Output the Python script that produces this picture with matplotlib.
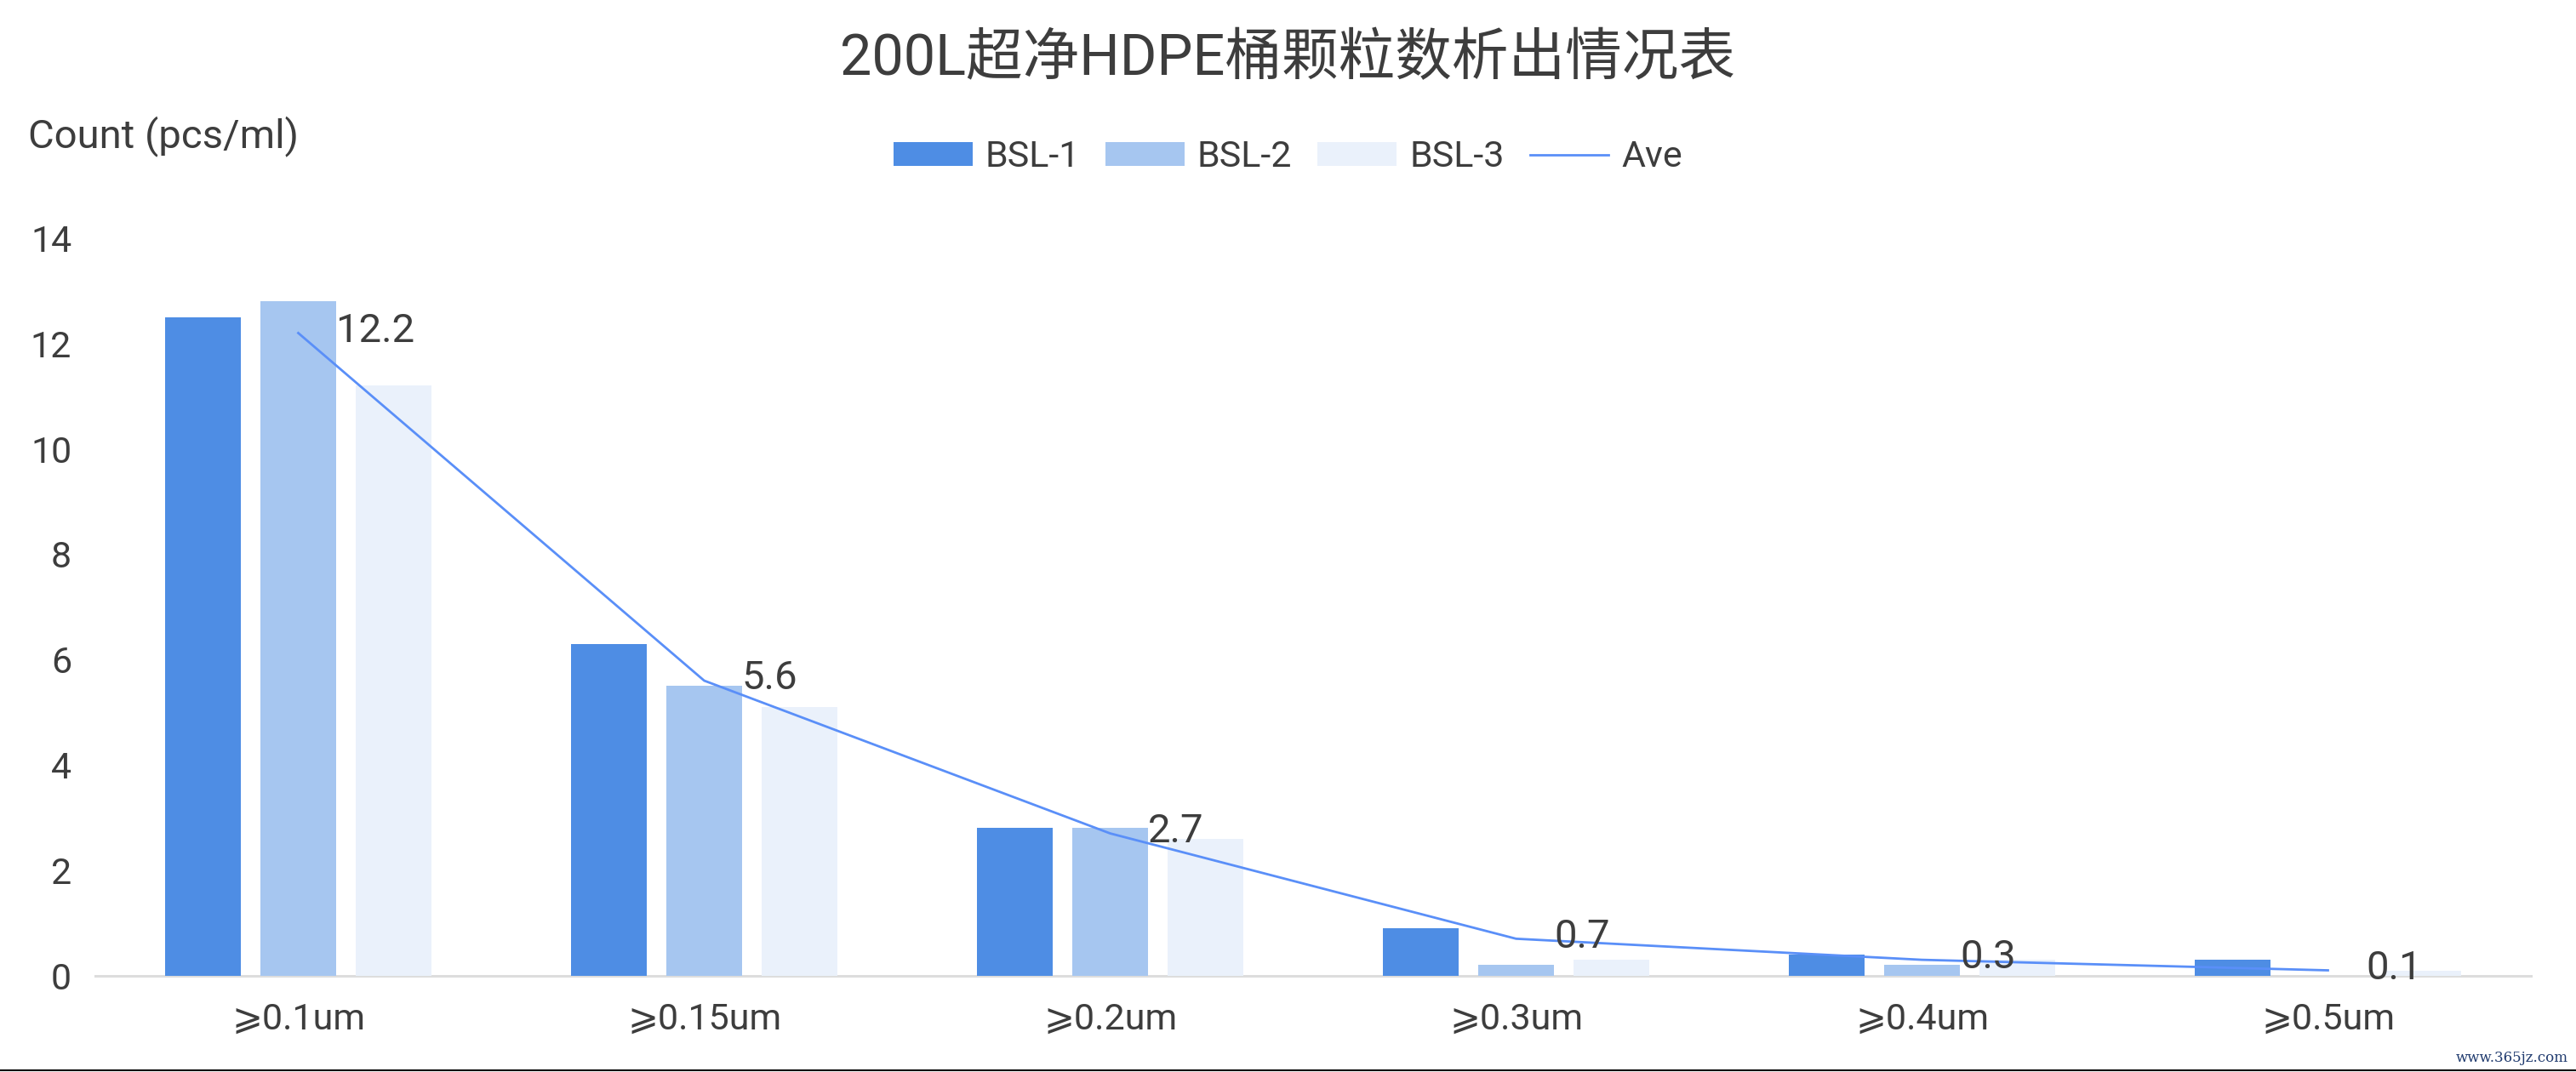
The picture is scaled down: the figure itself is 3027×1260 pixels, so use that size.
import matplotlib
matplotlib.use("Agg")
import matplotlib.pyplot as plt
from matplotlib.lines import Line2D
import numpy as np

plt.rcParams['font.family'] = ['Roboto', 'DejaVu Sans', 'Noto Sans CJK SC']

categories = ["⩾0.1um", "⩾0.15um", "⩾0.2um", "⩾0.3um", "⩾0.4um", "⩾0.5um"]
bsl1 = [12.5, 6.3, 2.8, 0.9, 0.4, 0.3]
bsl2 = [12.8, 5.5, 2.8, 0.2, 0.2, 0.0]
bsl3 = [11.2, 5.1, 2.6, 0.3, 0.3, 0.1]
ave = [12.2, 5.6, 2.7, 0.7, 0.3, 0.1]
series_names = ["BSL-1", "BSL-2", "BSL-3"]
line_name = "Ave"
title = "200L超净HDPE桶颗粒数析出情况表"
ylabel = "Count (pcs/ml)"
yticks = [0, 2, 4, 6, 8, 10, 12, 14]

colors = ["#4E8DE4", "#A6C6F0", "#EAF1FB"]
line_color = "#5A8FF8"
text_color = "#3D3D3D"

W, H = 3027, 1260
fig = plt.figure(figsize=(W / 100, H / 100), dpi=100)
ax = fig.add_axes([112 / W, 1 - 1146.7 / H, (2974 - 112) / W, (1146.7 - 280) / H])

x = np.arange(len(categories))
bw = 0.187
step = 0.235
handles = []
for k, (vals, c, name) in enumerate(zip([bsl1, bsl2, bsl3], colors, series_names)):
    h = ax.bar(x + (k - 1) * step, vals, width=bw, color=c, label=name, zorder=2)
    handles.append(h)

ln, = ax.plot(x, ave, color=line_color, lw=2.0, label=line_name, zorder=3)
handles.append(ln)
for xi, v in zip(x, ave):
    ax.annotate(f"{v:g}", (xi, v), xytext=(32, 2), textcoords="offset points",
                ha="left", va="center", fontsize=34, color=text_color, zorder=4)

ax.set_xlim(-0.5, len(categories) - 0.5)
ax.set_ylim(0, 14)
ax.set_yticks(yticks)
ax.set_xticks(x)
ax.set_xticklabels(categories)
for s in ["left", "top", "right"]:
    ax.spines[s].set_visible(False)
ax.spines["bottom"].set_color("#DDDDDD")
ax.spines["bottom"].set_linewidth(2.2)
ax.spines["bottom"].set_zorder(1)
ax.tick_params(axis="y", length=0, pad=20, labelsize=31, labelcolor=text_color)
ax.tick_params(axis="x", length=0, pad=22, labelsize=31, labelcolor=text_color)
ax.set_facecolor("white")

fig.text(0.5, 1 - 70 / H, title, ha="center", va="center", fontsize=48, color=text_color,
         family=['Roboto', 'Noto Sans CJK SC'])
fig.text(33 / W, 1 - 160 / H, ylabel, ha="left", va="center", fontsize=34, color=text_color)

leg = fig.legend(handles=handles, labels=series_names + [line_name], loc="center",
                 bbox_to_anchor=(0.5, 1 - 185 / H), ncol=4, frameon=False, fontsize=31,
                 handlelength=2.15, handleheight=0.63, handletextpad=0.35, columnspacing=0.7)
for t in leg.get_texts():
    t.set_color(text_color)

fig.text(3018 / W, 1 - 1244 / H, "www.365jz.com", ha="right", va="center", fontsize=12,
         color="#1F3A6E", family="DejaVu Serif")
fig.add_artist(Line2D([0, 1], [1 - 1258 / H, 1 - 1258 / H], transform=fig.transFigure,
                      color="black", lw=1.5))

fig.savefig("out.png", dpi=100, facecolor="white")
